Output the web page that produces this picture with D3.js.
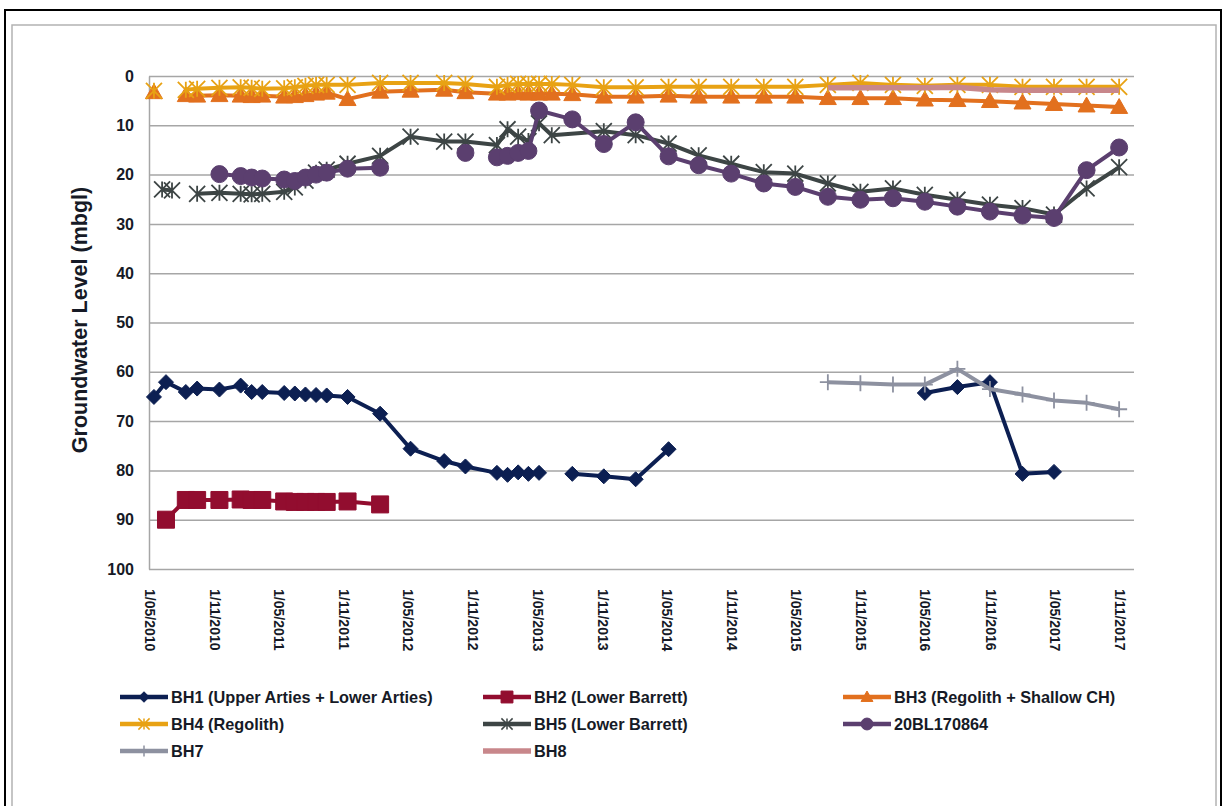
<!DOCTYPE html>
<html><head><meta charset="utf-8">
<script src="https://cdn.jsdelivr.net/npm/d3@7"></script>
<style>body{margin:0;background:#fff}svg{display:block}</style>
</head><body><svg id="c" width="1225" height="806"></svg>
<script>
// ---------- DATA ----------
const seriesNames = ["BH1 (Upper Arties + Lower Arties)", "BH2 (Lower Barrett)", "BH3 (Regolith + Shallow CH)",
  "BH4 (Regolith)", "BH5 (Lower Barrett)", "20BL170864", "BH7", "BH8"];
const earlyDates = ["2010-05-15","2010-06-18","2010-08-13","2010-09-14","2010-11-16","2011-01-15","2011-02-15","2011-03-17",
  "2011-05-18","2011-06-17","2011-07-17","2011-08-16","2011-09-15","2011-11-13","2012-02-13","2012-05-09","2012-08-12",
  "2012-10-11","2013-01-08","2013-02-07","2013-03-09","2013-04-07","2013-05-07","2013-06-12","2013-08-09","2013-11-06",
  "2014-02-04","2014-05-08"];
const quarterDates = ["2014-08-01","2014-11-01","2015-02-01","2015-05-01","2015-08-01","2015-11-01","2016-02-01","2016-05-01",
  "2016-08-01","2016-11-01","2017-02-01","2017-05-01","2017-08-01","2017-11-01"];
const bh1Values = [65.1,62.1,64.1,63.4,63.6,62.8,64.1,64.1,64.3,64.4,64.6,64.7,64.8,65.1,68.5,75.6,78.1,79.2,80.5,80.9,80.4,80.7,80.5,null,80.7,81.2,81.8,75.7,
  null,null,null,null,null,null,null,64.3,63.1,62.1,80.7,80.3];
const bh2Values = [null,90.0,86.0,86.0,86.0,85.9,86.0,86.0,86.3,86.4,86.4,86.4,86.4,86.3,86.9];
const bh3Values = [3.3,null,3.9,4.0,3.9,4.0,4.1,4.0,4.2,4.1,3.9,3.6,3.4,4.7,3.2,3.0,2.8,3.3,3.6,3.6,3.5,3.6,3.6,3.6,3.7,4.2,4.2,4.0,
  4.2,4.2,4.2,4.2,4.5,4.5,4.5,4.8,4.9,5.1,5.4,5.7,6.0,6.3];
const bh4Values = [3.0,null,2.8,2.6,2.4,2.3,2.4,2.6,2.5,2.3,2.0,1.8,1.8,1.8,1.4,1.4,1.4,1.6,2.2,1.8,1.6,1.6,1.6,1.6,1.8,2.3,2.3,2.2,
  2.2,2.2,2.2,2.2,1.8,1.4,1.8,2.0,1.8,1.8,2.2,2.2,2.2,2.2];
const bh5Dates = ["2010-06-07","2010-07-05","2010-08-13","2010-09-14","2010-11-16","2011-01-15","2011-02-15","2011-03-17",
  "2011-05-18","2011-06-17","2011-07-17","2011-08-16","2011-09-15","2011-11-13","2012-02-13","2012-05-09","2012-08-12",
  "2012-10-11","2013-01-08","2013-02-07","2013-03-09","2013-04-07","2013-05-07","2013-06-12","2013-11-06","2014-02-04","2014-05-08"];
const bh5Values = [23.0,23.2,null,23.9,23.7,23.9,24.0,23.9,23.5,22.6,21.2,19.6,19.0,17.8,16.2,12.3,13.3,13.3,14.0,10.8,12.3,13.2,9.6,12.0,11.2,12.0,13.7,
  16.1,17.8,19.5,19.8,21.8,23.5,22.8,24.1,25.1,26.1,26.8,28.1,22.8,18.5];
const bl20Dates = ["2010-11-16","2011-01-15","2011-02-15","2011-03-17","2011-05-18","2011-06-17","2011-07-17","2011-08-16",
  "2011-09-15","2011-11-13","2012-02-13","2012-05-09","2012-10-11","2012-11-20","2013-01-08","2013-02-07","2013-03-09",
  "2013-04-07","2013-05-07","2013-08-09","2013-11-06","2014-02-04","2014-05-08"];
const bl20Values = [19.9,20.3,20.6,20.8,21.0,21.3,20.6,20.0,19.6,18.8,18.6,null,15.6,null,16.5,16.2,15.6,15.2,7.0,8.8,13.8,9.4,16.3,
  18.1,19.8,21.8,22.5,24.5,25.1,24.8,25.5,26.5,27.5,28.3,28.8,19.1,14.5];
const bh7Values = [62.1,62.3,62.6,62.6,59.4,63.5,64.6,65.8,66.3,67.6];
const bh8Values = [2.4,2.4,2.4,2.4,2.3,2.8,2.9,2.9,2.9,2.9];
const yTicks = [0,10,20,30,40,50,60,70,80,90,100];
const xTickDates = ["2010-05-01","2010-11-01","2011-05-01","2011-11-01","2012-05-01","2012-11-01","2013-05-01","2013-11-01",
  "2014-05-01","2014-11-01","2015-05-01","2015-11-01","2016-05-01","2016-11-01","2017-05-01","2017-11-01"];
const xTickLabels = ["1/05/2010","1/11/2010","1/05/2011","1/11/2011","1/05/2012","1/11/2012","1/05/2013","1/11/2013",
  "1/05/2014","1/11/2014","1/05/2015","1/11/2015","1/05/2016","1/11/2016","1/05/2017","1/11/2017"];

// ---------- BUILD ----------
const parse = d3.timeParse("%Y-%m-%d");
const allEarly = earlyDates.concat(quarterDates);
const series = [
  {name: seriesNames[0], dates: allEarly, values: bh1Values, color: "#0c1f52", marker: "diamond"},
  {name: seriesNames[1], dates: allEarly, values: bh2Values, color: "#920d2f", marker: "square"},
  {name: seriesNames[2], dates: allEarly, values: bh3Values, color: "#e2701e", marker: "triangle"},
  {name: seriesNames[3], dates: allEarly, values: bh4Values, color: "#e8a214", marker: "star"},
  {name: seriesNames[4], dates: bh5Dates.concat(quarterDates), values: bh5Values, color: "#3d4545", marker: "star"},
  {name: seriesNames[5], dates: bl20Dates.concat(quarterDates), values: bl20Values, color: "#5b3f6f", marker: "circle"},
  {name: seriesNames[6], dates: quarterDates.slice(4), values: bh7Values, color: "#8d91a0", marker: "plus"},
  {name: seriesNames[7], dates: quarterDates.slice(4), values: bh8Values, color: "#c8878b", marker: "none"}
];
series.forEach(s => {
  s.points = s.values.map((v, i) => ({date: parse(s.dates[i]), value: v}));
});

const svg = d3.select("#c");
const FONT = "'Liberation Sans', Arial, sans-serif";
const TXT = "#161a26";

// frames
svg.append("rect").attr("x", 5).attr("y", 10).attr("width", 1216).attr("height", 830)
  .attr("fill", "none").attr("stroke", "#000").attr("stroke-width", 2);
svg.append("rect").attr("x", 12).attr("y", 25).attr("width", 1204).attr("height", 820)
  .attr("fill", "none").attr("stroke", "#b3b3b3").attr("stroke-width", 1.5);

const x = d3.scaleTime().domain([parse("2010-05-01"), parse("2017-12-13")]).range([149, 1134]);
const y = d3.scaleLinear().domain([0, 100]).range([76, 569]);

// y axis + gridlines
const yAxis = svg.append("g").attr("transform", "translate(149,0)")
  .call(d3.axisLeft(y).tickValues(yTicks).tickSizeInner(-985).tickSizeOuter(0).tickPadding(15));
yAxis.select(".domain").attr("stroke", "#a6a6a6").attr("stroke-width", 1.5);
yAxis.selectAll(".tick line").attr("stroke", "#a6a6a6").attr("stroke-width", 1.5);
yAxis.selectAll(".tick text").attr("font-family", FONT).attr("font-weight", "bold").attr("font-size", 16).attr("fill", TXT);

// x axis labels
const xAxis = svg.append("g").attr("transform", "translate(0,569)")
  .call(d3.axisBottom(x).tickValues(xTickDates.map(parse)).tickFormat((d, i) => xTickLabels[i]).tickSize(0).tickPadding(0));
xAxis.select(".domain").remove();
xAxis.selectAll(".tick text")
  .attr("font-family", FONT).attr("font-weight", "bold").attr("font-size", 14).attr("fill", TXT)
  .attr("text-anchor", "start").attr("transform", "rotate(90)").attr("x", 20).attr("y", 0).attr("dy", "0.35em");

// y title
svg.append("text").attr("transform", "translate(87,320) rotate(-90)").attr("text-anchor", "middle")
  .attr("font-family", FONT).attr("font-weight", "bold").attr("font-size", 21.5).attr("fill", TXT)
  .text("Groundwater Level (mbgl)");

// markers
function markerPath(type, k) {
  const p = d3.path();
  if (type === "diamond") { const s = 7.5 * k; p.moveTo(0, -s); p.lineTo(s, 0); p.lineTo(0, s); p.lineTo(-s, 0); p.closePath(); }
  else if (type === "square") { const s = 8.5 * k; p.rect(-s, -s, 2 * s, 2 * s); }
  else if (type === "triangle") { const s = 8.5 * k; p.moveTo(0, -s); p.lineTo(s, s * 0.75); p.lineTo(-s, s * 0.75); p.closePath(); }
  else if (type === "circle") { p.arc(0, 0, 8.5 * k, 0, 2 * Math.PI); }
  else if (type === "star") { const s = 8 * k; p.moveTo(-s, -s); p.lineTo(s, s); p.moveTo(s, -s); p.lineTo(-s, s); p.moveTo(0, -s); p.lineTo(0, s); }
  else if (type === "plus") { const s = 8 * k; p.moveTo(-s, 0); p.lineTo(s, 0); p.moveTo(0, -s); p.lineTo(0, s); }
  return p.toString();
}
const stroked = t => t === "star" || t === "plus";

const line = d3.line().defined(d => d.value !== null).x(d => x(d.date)).y(d => y(d.value));
const plot = svg.append("g");
series.forEach(s => {
  const g = plot.append("g");
  g.append("path").attr("d", line(s.points)).attr("fill", "none").attr("stroke", s.color)
    .attr("stroke-width", s.marker === "none" ? 5.5 : 4).attr("stroke-linejoin", "round");
  if (s.marker !== "none") {
    g.selectAll("path.m").data(s.points.filter(d => d.value !== null)).join("path").attr("class", "m")
      .attr("transform", d => `translate(${x(d.date)},${y(d.value)})`)
      .attr("d", markerPath(s.marker, 1))
      .attr("fill", stroked(s.marker) ? "none" : s.color)
      .attr("stroke", s.color).attr("stroke-width", stroked(s.marker) ? 1.8 : 1);
  }
});

// legend
const legendPos = [[120, 697], [483, 697], [843, 697], [120, 724], [483, 724], [843, 724], [120, 751], [483, 751]];
series.forEach((s, i) => {
  const [lx, ly] = legendPos[i];
  const g = svg.append("g").attr("transform", `translate(${lx},${ly})`);
  g.append("line").attr("x1", 0).attr("x2", 48).attr("y1", 0).attr("y2", 0).attr("stroke", s.color)
    .attr("stroke-width", s.marker === "none" ? 5.5 : 4.5);
  if (s.marker !== "none") {
    g.append("path").attr("transform", "translate(24,0)").attr("d", markerPath(s.marker, 0.7))
      .attr("fill", stroked(s.marker) ? "none" : s.color).attr("stroke", s.color)
      .attr("stroke-width", stroked(s.marker) ? 1.5 : 1);
  }
  g.append("text").attr("x", 51).attr("y", 0).attr("dy", "0.35em")
    .attr("font-family", FONT).attr("font-weight", "bold").attr("font-size", 16.3).attr("fill", TXT)
    .text(s.name);
});
</script></body></html>
